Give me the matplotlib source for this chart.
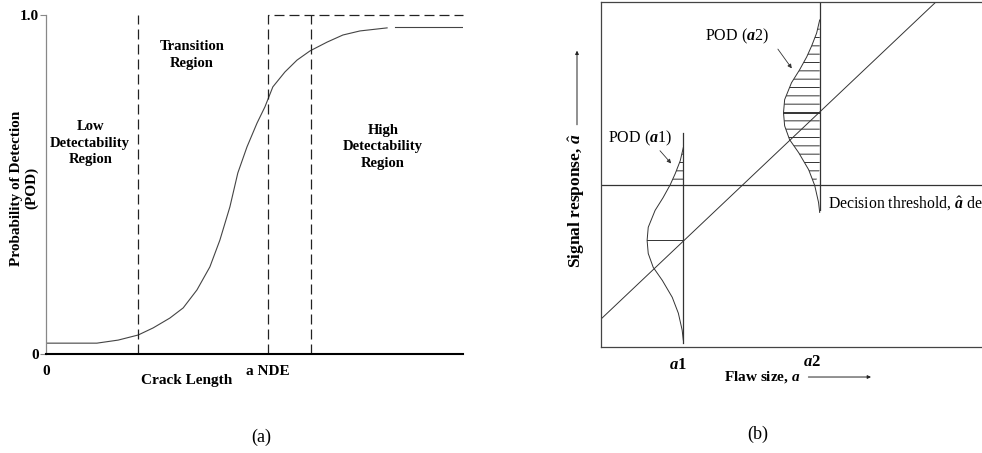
import matplotlib
matplotlib.use("Agg")
from matplotlib import pyplot as plt
import numpy as np

plt.rcParams['font.family'] = ['Liberation Serif', 'DejaVu Serif']
plt.rcParams['mathtext.fontset'] = 'custom'
plt.rcParams['mathtext.rm'] = 'Liberation Serif'
plt.rcParams['mathtext.it'] = 'Liberation Serif:italic'
plt.rcParams['mathtext.bf'] = 'Liberation Serif:bold'
plt.rcParams['mathtext.bfit'] = 'Liberation Serif:italic:bold'
plt.rcParams['hatch.linewidth'] = 0.7

# --- panel (a): POD curve vs crack length ---
crack = [0.000, 0.122, 0.173, 0.221, 0.257, 0.297, 0.329, 0.362, 0.393,
         0.417, 0.441, 0.460, 0.482, 0.506, 0.525, 0.544, 0.573, 0.602,
         0.633, 0.674, 0.712, 0.753, 0.818]
pod = [0.032, 0.032, 0.041, 0.056, 0.077, 0.106, 0.136, 0.189, 0.257,
       0.336, 0.434, 0.534, 0.611, 0.681, 0.729, 0.788, 0.832, 0.867,
       0.894, 0.920, 0.941, 0.953, 0.962]
tail_x = [0.837, 1.0]
tail_y = [0.965, 0.965]
low_edge = 0.221      # end of low detectability region
a_nde = 0.532
high_edge = 0.636     # start of high detectability region

# --- panel (b): signal response vs flaw size ---
fit_x = [0.0, 0.879]
fit_y = [0.081, 1.0]
threshold = 0.471
a1, a2 = 0.216, 0.574
mean1, mean2 = 0.309, 0.679
a1_line = [0.012, 0.621]
a2_line = [0.396, 1.0]
# bell shape: offset from mean (up +) and width to the left of the flaw line
bell_dy = [0.269, 0.231, 0.194, 0.162, 0.124, 0.087, 0.038, 0.0,
           -0.038, -0.078, -0.116, -0.165, -0.211, -0.260, -0.289]
bell_w = [0.0, 0.008, 0.021, 0.034, 0.053, 0.074, 0.092, 0.095,
          0.092, 0.079, 0.055, 0.029, 0.013, 0.003, 0.0]

fig = plt.figure(figsize=(9.82, 4.53), dpi=100)

# ================= (a) =================
ax = fig.add_axes([46/982, 1-354/453, 417/982, 339/453])
ax.set_xlim(0, 1)
ax.set_ylim(0, 1)
ax.plot(crack, pod, color='#444444', lw=0.8)
ax.plot(tail_x, tail_y, color='#444444', lw=0.8)
dash = (0, (8, 4))
ax.plot([low_edge, low_edge], [0, 1], color='#222222', lw=0.9, ls=dash)
ax.plot([a_nde, a_nde, 1.0], [0, 1, 1], color='#222222', lw=0.9, ls=dash,
        clip_on=False)
ax.plot([high_edge, high_edge], [0, 1], color='#222222', lw=0.9, ls=dash)

for s in ['top', 'right']:
    ax.spines[s].set_visible(False)
ax.spines['left'].set_color('#888888')
ax.spines['left'].set_linewidth(0.9)
ax.spines['bottom'].set_color('black')
ax.spines['bottom'].set_linewidth(1.5)
ax.set_yticks([0, 1])
ax.set_yticklabels(['0', '1.0'], fontweight='bold', fontsize=11)
ax.tick_params(axis='y', length=4, width=0.8, color='#888888', pad=1)
ax.set_xticks([0, a_nde])
ax.set_xticklabels(['0', 'a NDE'], fontweight='bold', fontsize=11)
ax.tick_params(axis='x', length=0, pad=8)
ax.text((24 - 46) / 417, 0.49, 'Probability of Detection\n(POD)', rotation=90,
        ha='center', va='center', fontweight='bold', fontsize=11,
        linespacing=1.2, transform=ax.transAxes)
ax.text(0.338, -0.077, 'Crack Length', ha='center', va='center',
        fontweight='bold', fontsize=11, transform=ax.transAxes)

ax.text(0.106, 0.622, 'Low\nDetectability\nRegion', ha='center', va='center',
        fontweight='bold', fontsize=10.5, linespacing=1.35)
ax.text(0.350, 0.882, 'Transition\nRegion', ha='center', va='center',
        fontweight='bold', fontsize=10.5, linespacing=1.35)
ax.text(0.808, 0.611, 'High\nDetectability\nRegion', ha='center', va='center',
        fontweight='bold', fontsize=10.5, linespacing=1.35)
ax.text(0.516, -0.247, '(a)', ha='center', va='center', fontsize=13,
        transform=ax.transAxes)

# ================= (b) =================
bx = fig.add_axes([601/982, 1-347/453, 381/982, 345/453])
bx.set_xlim(0, 1)
bx.set_ylim(0, 1)
bx.spines['right'].set_visible(False)
for s in ['left', 'top', 'bottom']:
    bx.spines[s].set_color('#444444')
    bx.spines[s].set_linewidth(0.9)
bx.set_xticks([])
bx.set_yticks([])

lc = '#333333'
bx.plot(fit_x, fit_y, color=lc, lw=0.7)
bx.axhline(threshold, color=lc, lw=0.9)
bx.plot([a1, a1], a1_line, color=lc, lw=0.9)
bx.plot([a2, a2], a2_line, color=lc, lw=0.9)

dy = np.array(bell_dy)
w = np.array(bell_w)
for xa, m in [(a1, mean1), (a2, mean2)]:
    yy = m + dy
    bx.plot(xa - w, yy, color=lc, lw=0.7)
    bx.fill_betweenx(yy, xa - w, xa, where=yy >= threshold, interpolate=True,
                     facecolor='none', edgecolor=lc, hatch='--', linewidth=0)
    bx.plot([xa - w.max(), xa], [m, m], color=lc, lw=0.7)

bx.text(0.103, 0.604, r'POD ($\mathbfit{a}$1)', ha='center', va='center',
        fontsize=11.5)
bx.text(0.358, 0.899, r'POD ($\mathbfit{a}$2)', ha='center', va='center',
        fontsize=11.5)
bx.annotate('', xy=(0.189, 0.526), xytext=(0.150, 0.575),
            arrowprops=dict(arrowstyle='-|>', color=lc, lw=0.6,
                            mutation_scale=6))
bx.annotate('', xy=(0.505, 0.801), xytext=(0.460, 0.870),
            arrowprops=dict(arrowstyle='-|>', color=lc, lw=0.6,
                            mutation_scale=6))
bx.text(0.595, 0.416, r'Decision threshold, $\hat{\mathbfit{a}}$ decision',
        ha='left', va='center', fontsize=11.3, clip_on=False)

bx.text(a1 - 0.013, -0.052, r'$\mathbfit{a}$1', ha='center', va='center',
        fontsize=12, fontweight='bold')
bx.text(a2 - 0.019, -0.043, r'$\mathbfit{a}$2', ha='center', va='center',
        fontsize=12, fontweight='bold')
bx.text(0.424, -0.087, r'Flaw size, $\mathbfit{a}$', ha='center', va='center',
        fontsize=11, fontweight='bold')
bx.annotate('', xy=(0.716, -0.087), xytext=(0.537, -0.087),
            xycoords='axes fraction', textcoords='axes fraction',
            arrowprops=dict(arrowstyle='-|>', color='#222222', lw=0.7,
                            mutation_scale=5))
bx.text(-0.063, 0.425, r'Signal response, $\hat{\mathbfit{a}}$', rotation=90,
        ha='center', va='center', fontsize=12.5, fontweight='bold',
        transform=bx.transAxes)
bx.annotate('', xy=(-0.063, 0.867), xytext=(-0.063, 0.636),
            xycoords='axes fraction', textcoords='axes fraction',
            arrowprops=dict(arrowstyle='-|>', color='#222222', lw=0.7,
                            mutation_scale=5))
bx.text(0.411, -0.254, '(b)', ha='center', va='center', fontsize=13,
        transform=bx.transAxes)

fig.savefig('out.png', dpi=100)
